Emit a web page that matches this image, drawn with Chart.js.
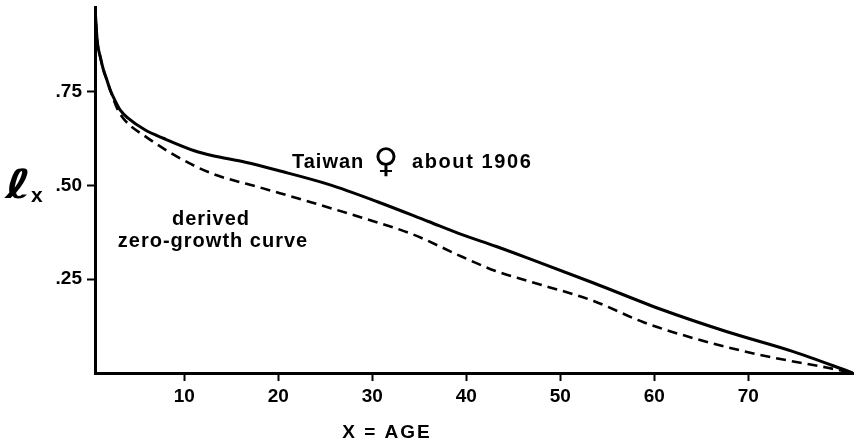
<!DOCTYPE html>
<html>
<head>
<meta charset="utf-8">
<script src="https://cdn.jsdelivr.net/npm/chart.js@4"></script>
<style>
  html, body { margin: 0; padding: 0; background: #fff; }
  #wrap { width: 857px; height: 442px; }
</style>
</head>
<body>
<div id="wrap"><canvas id="lx-chart"></canvas></div>
<script>
// survivorship l(x)
const taiwanAges = [0.5, 0.74, 1.07, 1.38, 1.81, 2.13, 2.66, 3.19, 4.05, 5.85, 7.77, 11.15, 12.94, 16.51, 19.99, 25.35, 30.62, 35.97, 39.55, 43.13, 46.49, 53.55, 60.7, 67.75, 74.8, 81.15];
const taiwanLx = [0.976, 0.885, 0.842, 0.810, 0.778, 0.754, 0.725, 0.701, 0.679, 0.648, 0.626, 0.592, 0.580, 0.562, 0.540, 0.503, 0.456, 0.404, 0.369, 0.338, 0.307, 0.240, 0.170, 0.110, 0.057, 0];

const derivedAges = [0.5, 0.74, 1.07, 1.38, 1.81, 2.13, 2.87, 3.71, 5.85, 9.37, 12.94, 18.3, 23.66, 28.92, 34.28, 39.55, 43.13, 46.49, 53.55, 58.8, 64.16, 71.3, 78.45, 81.15];
const derivedLx = [0.976, 0.885, 0.842, 0.810, 0.778, 0.754, 0.705, 0.673, 0.631, 0.575, 0.532, 0.493, 0.454, 0.414, 0.370, 0.310, 0.272, 0.246, 0.192, 0.136, 0.093, 0.048, 0.014, 0];

const xTicks = [10, 20, 30, 40, 50, 60, 70];
const yTicks = [0.25, 0.5, 0.75];
const yTickLabels = ['.25', '.50', '.75'];

const FONT = '"Liberation Sans", Arial, sans-serif';

function toPoints(xs, ys) {
    return xs.map((x, i) => ({ x: x, y: ys[i] }));
}

// text written on the figure
const labelsPlugin = {
    id: 'figureLabels',
    afterDraw(chart) {
        const ctx = chart.ctx;
        ctx.save();
        ctx.fillStyle = '#000';
        ctx.textBaseline = 'alphabetic';
        ctx.textAlign = 'left';

        // l sub x, script l stretched a bit wider
        ctx.save();
        ctx.translate(5, 198);
        ctx.scale(1.4, 1);
        ctx.font = 'bold 40px "DejaVu Sans"';
        ctx.fillText('ℓ', 0, 0);
        ctx.restore();
        ctx.font = 'bold 21px ' + FONT;
        ctx.fillText('x', 31, 202);

        ctx.letterSpacing = '1px';
        ctx.font = 'bold 20px ' + FONT;
        ctx.fillText('Taiwan', 292, 168);
        ctx.letterSpacing = '1.6px';
        ctx.fillText('about 1906', 412, 168);
        ctx.letterSpacing = '0px';
        ctx.textAlign = 'center';
        ctx.font = 'bold 34px "DejaVu Sans"';
        ctx.fillText('♀', 386, 172);

        ctx.letterSpacing = '1px';
        ctx.font = 'bold 20px ' + FONT;
        ctx.fillText('derived', 211, 225);
        ctx.fillText('zero-growth curve', 213, 247);

        ctx.letterSpacing = '2px';
        ctx.font = 'bold 19px ' + FONT;
        ctx.fillText('X = AGE', 387, 438);
        ctx.restore();
    }
};

const ctx = document.getElementById('lx-chart').getContext('2d');

const lxChart = new Chart(ctx, {
    type: 'line',
    data: {
        datasets: [{
            label: 'Taiwan female about 1906',
            data: toPoints(taiwanAges, taiwanLx),
            borderColor: '#000',
            borderWidth: 3,
            pointRadius: 0,
            cubicInterpolationMode: 'monotone',
            fill: false
        }, {
            label: 'derived zero-growth curve',
            data: toPoints(derivedAges, derivedLx),
            borderColor: '#000',
            borderWidth: 2.6,
            borderDash: [10, 6],
            pointRadius: 0,
            cubicInterpolationMode: 'monotone',
            fill: false
        }]
    },
    options: {
        responsive: true,
        maintainAspectRatio: false,
        animation: false,
        layout: { padding: { top: 7, right: 4, left: 0, bottom: 0 } },
        plugins: {
            legend: { display: false },
            tooltip: { enabled: false }
        },
        scales: {
            x: {
                type: 'linear',
                min: 0.5,
                max: 81.15,
                border: { color: '#000', width: 3 },
                grid: { drawOnChartArea: false, tickLength: 8, tickWidth: 2, tickColor: '#000' },
                ticks: { color: '#000', padding: 4, font: { family: FONT, size: 19, weight: 'bold' } },
                afterBuildTicks: axis => { axis.ticks = xTicks.map(v => ({ value: v })); },
                afterFit: scale => {
                    scale.height = 69;
                    scale.paddingLeft = 0;
                    scale.paddingRight = 0;
                }
            },
            y: {
                min: 0,
                max: 0.976,
                border: { color: '#000', width: 3 },
                grid: { drawOnChartArea: false, tickLength: 8, tickWidth: 2, tickColor: '#000' },
                ticks: {
                    color: '#000',
                    padding: 5,
                    font: { family: FONT, size: 19, weight: 'bold' },
                    callback: v => yTickLabels[yTicks.indexOf(v)]
                },
                afterBuildTicks: axis => { axis.ticks = yTicks.map(v => ({ value: v })); },
                afterFit: scale => {
                    scale.width = 95;
                    scale.paddingTop = 0;
                    scale.paddingBottom = 0;
                }
            }
        }
    },
    plugins: [labelsPlugin]
});
</script>
</body>
</html>
